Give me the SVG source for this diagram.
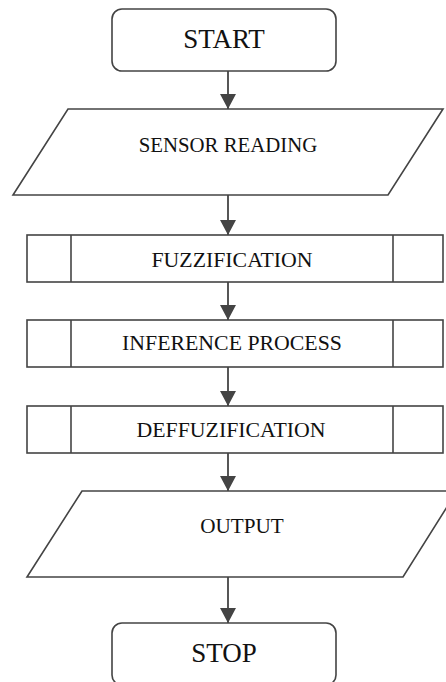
<svg xmlns="http://www.w3.org/2000/svg" width="446" height="682" viewBox="0 0 446 682">
<style>
.s{fill:#fff;stroke:#444;stroke-width:1.6}
.t{font-family:"Liberation Serif","Times New Roman",serif;fill:#111;text-anchor:middle}
.c{stroke:#444;stroke-width:1.8;fill:none;marker-end:url(#ah)}
</style>
<defs>
<marker id="ah" markerUnits="userSpaceOnUse" viewBox="0 0 16 16" markerWidth="16" markerHeight="16" refX="15" refY="8" orient="auto">
<path d="M0,0 L15,8 L0,16 z" fill="#444"/>
</marker>
</defs>
<rect width="446" height="682" fill="#fff"/>
<g id="connectors">
<line class="c" x1="228" y1="71" x2="228" y2="109"/>
<line class="c" x1="228" y1="195" x2="228" y2="235"/>
<line class="c" x1="228" y1="282" x2="228" y2="320"/>
<line class="c" x1="228" y1="367" x2="228" y2="406"/>
<line class="c" x1="228" y1="453" x2="228" y2="491"/>
<line class="c" x1="228" y1="577" x2="228" y2="623"/>
</g>
<g id="start">
<rect class="s" x="112" y="9" width="224" height="62" rx="10"/>
<text class="t" x="224" y="47.5" font-size="27">START</text>
</g>
<g id="sensor">
<polygon class="s" points="68,109 443,109 388,195 13,195"/>
<text class="t" x="228" y="152" font-size="20.8">SENSOR READING</text>
</g>
<g id="fuzz">
<rect class="s" x="27" y="235" width="416" height="47"/>
<line class="s" x1="71" y1="235" x2="71" y2="282"/>
<line class="s" x1="393" y1="235" x2="393" y2="282"/>
<text class="t" x="232" y="266.5" font-size="21.8">FUZZIFICATION</text>
</g>
<g id="inference">
<rect class="s" x="27" y="320" width="416" height="47"/>
<line class="s" x1="71" y1="320" x2="71" y2="367"/>
<line class="s" x1="393" y1="320" x2="393" y2="367"/>
<text class="t" x="232" y="350" font-size="21.8">INFERENCE PROCESS</text>
</g>
<g id="defuzz">
<rect class="s" x="27" y="406" width="416" height="47"/>
<line class="s" x1="71" y1="406" x2="71" y2="453"/>
<line class="s" x1="393" y1="406" x2="393" y2="453"/>
<text class="t" x="231" y="436.7" font-size="21.8">DEFFUZIFICATION</text>
</g>
<g id="output">
<polygon class="s" points="82,491 457,491 403,577 27,577"/>
<text class="t" x="242" y="533" font-size="21.2">OUTPUT</text>
</g>
<g id="stop">
<rect class="s" x="112" y="623" width="224" height="62" rx="10"/>
<text class="t" x="224" y="661.7" font-size="27">STOP</text>
</g>
</svg>
